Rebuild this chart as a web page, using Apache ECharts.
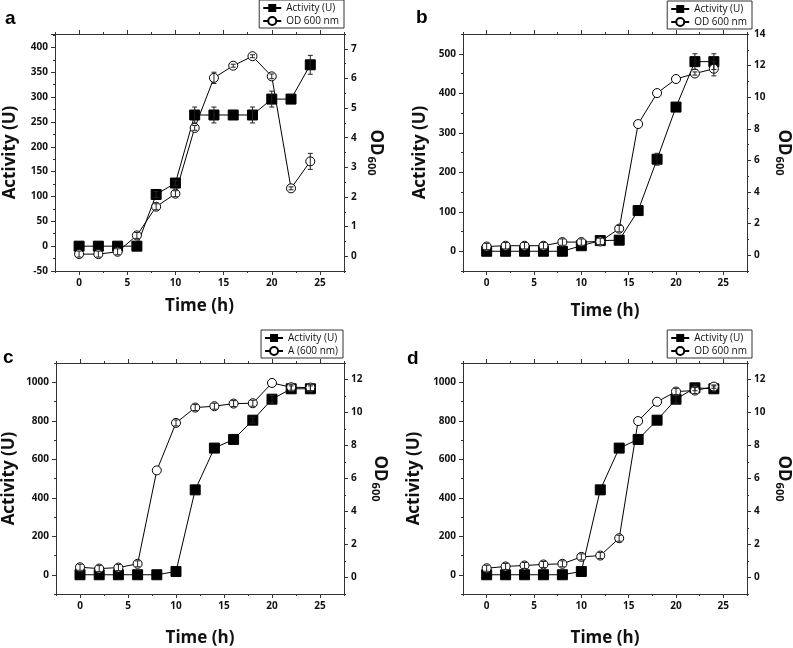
<!DOCTYPE html>
<html><head><meta charset="utf-8">
<script src="https://cdn.jsdelivr.net/npm/echarts@6/dist/echarts.min.js"></script>
<style>html,body{margin:0;padding:0;background:#fff}#c{width:793px;height:648px}</style>
</head><body><div id="c"></div>
<script>
// ---- data ----
const time = [0, 2, 4, 6, 8, 10, 12, 14, 16, 18, 20, 22, 24];

const activityA    = [0, 0, 0, 0, 104, 127, 264, 264, 264, 264, 296, 296, 365];
const activityErrA = [0, 0, 0, 0, 6, 5, 16, 16, 0, 16, 16, 0, 19];
const odA          = [0.07, 0.07, 0.15, 0.70, 1.67, 2.11, 4.33, 6.02, 6.43, 6.75, 6.07, 2.29, 3.20];
const odErrA       = [0.1, 0.1, 0.1, 0.1, 0.1, 0.1, 0.08, 0.19, 0.05, 0.05, 0.08, 0.05, 0.27];

const activityB    = [0, 0, 0, 0, 0, 14, 27, 28, 103, 233, 365, 480, 480];
const activityErrB = [0, 0, 0, 0, 0, 0, 0, 0, 0, 15, 0, 20, 20];
const odB          = [0.55, 0.60, 0.60, 0.60, 0.83, 0.83, 0.87, 1.68, 8.30, 10.26, 11.15, 11.50, 11.80];
const odErrB       = [0.2, 0.2, 0.2, 0.2, 0.2, 0.2, 0.2, 0.2, 0, 0, 0, 0.1, 0.45];

const activityC    = [0, 0, 0, 0, 0, 17, 441, 658, 703, 803, 912, 966, 966];
const activityErrC = [0, 0, 0, 0, 0, 0, 0, 0, 0, 15, 20, 15, 15];
const odC          = [0.62, 0.54, 0.60, 0.83, 6.49, 9.37, 10.30, 10.38, 10.54, 10.56, 11.79, 11.53, 11.51];
const odErrC       = [0.18, 0.18, 0.18, 0.18, 0, 0.18, 0.18, 0.18, 0.18, 0.18, 0, 0.18, 0.18];

const activityD    = [0, 0, 0, 0, 0, 17, 441, 658, 703, 803, 912, 971, 966];
const activityErrD = [0, 0, 0, 0, 0, 0, 0, 0, 0, 0, 20, 15, 15];
const odD          = [0.56, 0.67, 0.73, 0.79, 0.83, 1.25, 1.33, 2.38, 9.48, 10.65, 11.27, 11.33, 11.57];
const odErrD       = [0.18, 0.18, 0.18, 0.18, 0.18, 0.18, 0.18, 0.18, 0, 0, 0.18, 0.18, 0.1];

// axis ranges [min, max, major step]
const xRange   = [-2.5, 27.5, 5];
const yLeftA   = [-50, 427, 50];
const yRightA  = [-0.5, 7.5, 1];
const yLeftB   = [-50, 550, 100];
const yRightB  = [-1, 14, 2];
const yLeftCD  = [-100, 1100, 200];
const yRightCD = [-1, 13, 2];

const activityName = 'Activity (U)';
const odNames = ['OD 600 nm', 'OD 600 nm', 'A (600 nm)', 'OD 600 nm'];
const panelLetters = ['a', 'b', 'c', 'd'];
const xTitle = 'Time (h)';
const yLeftTitle = 'Activity (U)';

// ---- build ----
const FONT = '"Open Sans", "DejaVu Sans", sans-serif';
const LC = '#333';
const labelStyle = {fontFamily: FONT, fontWeight: 'bold', fontSize: 10, color: '#111'};
function isMult(v, s) { const r = v / s; return Math.abs(r - Math.round(r)) < 1e-6; }

const panels = [
  {act: activityA, actErr: activityErrA, od: odA, odErr: odErrA, yL: yLeftA, yR: yRightA,
   grid: {left: 55, top: 34, width: 289, height: 237}, xGap: 27, lGap: 36, rGap: 22, legend: {right: 449, top: 0}, letter: [5, 9]},
  {act: activityB, actErr: activityErrB, od: odB, odErr: odErrB, yL: yLeftB, yR: yRightB,
   grid: {left: 463, top: 34, width: 289, height: 237}, xGap: 32, lGap: 34, rGap: 27, legend: {right: 41, top: 1}, letter: [416, 8]},
  {act: activityC, actErr: activityErrC, od: odC, odErr: odErrC, yL: yLeftCD, yR: yRightCD,
   grid: {left: 55, top: 363, width: 289, height: 236}, xGap: 36, lGap: 38, rGap: 26, legend: {right: 450, top: 330}, letter: [3, 348]},
  {act: activityD, actErr: activityErrD, od: odD, odErr: odErrD, yL: yLeftCD, yR: yRightCD,
   grid: {left: 463, top: 363, width: 289, height: 236}, xGap: 36, lGap: 40, rGap: 27, legend: {right: 41, top: 330}, letter: [407, 349]}
];

const option = {animation: false, backgroundColor: '#fff', grid: [], xAxis: [], yAxis: [], series: [], legend: [], graphic: []};

function addAxes(list, g, pos, range, labels, nameCfg) {
  const [min, max, step] = range;
  const base = {type: 'value', gridIndex: g, position: pos, min: min, max: max, scale: false,
    splitLine: {show: false},
    axisLine: {show: true, onZero: false, lineStyle: {color: LC, width: 1}}};
  const fmt = v => isMult(v, step) ? String(v) : '';
  const idx = list.length;
  if (isMult(min, step)) {
    list.push(Object.assign({}, base, {interval: step,
      axisTick: {show: true, length: 4, lineStyle: {color: LC}},
      minorTick: {show: true, splitNumber: 2, length: 2, lineStyle: {color: LC}},
      axisLabel: labels ? Object.assign({}, labelStyle, {formatter: fmt, margin: 7}) : {show: false}}, nameCfg || {}));
  } else {
    list.push(Object.assign({}, base, {interval: step,
      axisTick: {show: true, length: 2, lineStyle: {color: LC}},
      minorTick: {show: true, splitNumber: 2, length: 4, lineStyle: {color: LC}},
      axisLabel: {show: false}}, nameCfg || {}));
    if (labels) {
      list.push({type: 'value', gridIndex: g, position: pos, min: min, max: max, interval: step / 2,
        splitLine: {show: false}, axisLine: {show: false, onZero: false}, axisTick: {show: false},
        axisLabel: Object.assign({}, labelStyle, {formatter: fmt, margin: 7})});
    }
  }
  return idx;
}

function errSeries(name, xi, yi, vals, errs) {
  const data = [];
  time.forEach((t, i) => { if (errs[i] > 0) data.push([t, vals[i], errs[i]]); });
  return {type: 'custom', name: name, xAxisIndex: xi, yAxisIndex: yi, z: 5, silent: true,
    data: data, encode: {x: 0, y: 1},
    renderItem: function (params, api) {
      const x = api.value(0), y = api.value(1), e = api.value(2);
      const top = api.coord([x, y + e]), bot = api.coord([x, y - e]);
      const cw = 2.5, st = {stroke: '#222', lineWidth: 1};
      return {type: 'group', children: [
        {type: 'line', shape: {x1: top[0], y1: top[1], x2: bot[0], y2: bot[1]}, style: st},
        {type: 'line', shape: {x1: top[0] - cw, y1: top[1], x2: top[0] + cw, y2: top[1]}, style: st},
        {type: 'line', shape: {x1: bot[0] - cw, y1: bot[1], x2: bot[0] + cw, y2: bot[1]}, style: st}
      ]};
    }};
}

const titleStyle = {fontFamily: FONT, fontWeight: 'bold', fontSize: 17, color: '#111'};

panels.forEach((p, g) => {
  option.grid.push(Object.assign({containLabel: false}, p.grid));
  const xi = addAxes(option.xAxis, g, 'bottom', xRange, true,
    {name: xTitle, nameLocation: 'middle', nameGap: p.xGap, nameTextStyle: titleStyle});
  addAxes(option.xAxis, g, 'top', xRange, false);
  const yl = addAxes(option.yAxis, g, 'left', p.yL, true,
    {name: yLeftTitle, nameLocation: 'middle', nameGap: p.lGap, nameTextStyle: titleStyle});
  const yr = addAxes(option.yAxis, g, 'right', p.yR, true,
    {name: '{a|OD}{b|600}', nameLocation: 'middle', nameGap: p.rGap, nameRotate: -90,
     nameTextStyle: {rich: {
       a: {fontFamily: FONT, fontWeight: 'bold', fontSize: 17, color: '#111'},
       b: {fontFamily: FONT, fontWeight: 'bold', fontSize: 11, color: '#111', verticalAlign: 'bottom', padding: [8, 0, 0, 1]}}}});

  option.series.push({type: 'line', name: activityName, xAxisIndex: xi, yAxisIndex: yl,
    data: time.map((t, i) => [t, p.act[i]]), symbol: 'rect', symbolSize: 10,
    itemStyle: {color: '#000', borderColor: '#000'}, lineStyle: {color: '#000', width: 1}, z: 2});
  option.series.push({type: 'line', name: odNames[g], xAxisIndex: xi, yAxisIndex: yr,
    data: time.map((t, i) => [t, p.od[i]]), symbol: 'circle', symbolSize: 9, showAllSymbol: true,
    itemStyle: {color: '#fff', borderColor: '#000', borderWidth: 1}, lineStyle: {color: '#000', width: 1}, z: 3});
  option.series.push(errSeries('errAct' + g, xi, yl, p.act, p.actErr));
  option.series.push(errSeries('errOD' + g, xi, yr, p.od, p.odErr));

  option.legend.push({right: p.legend.right, top: p.legend.top, orient: 'vertical',
    data: [activityName, odNames[g]], selectedMode: false,
    borderColor: '#333', borderWidth: 1, borderRadius: 0, backgroundColor: '#fff',
    padding: [3, 5, 2, 3], itemGap: 3, itemWidth: 18, itemHeight: 10,
    textStyle: {fontFamily: FONT, fontSize: 10, color: '#111'}});

  option.graphic.push({type: 'text', left: p.letter[0], top: p.letter[1],
    style: {text: panelLetters[g], font: 'bold 19px "Liberation Sans", Arial, sans-serif', fill: '#000'}});
});

const chart = echarts.init(document.getElementById('c'), null, {renderer: 'canvas'});
chart.setOption(option);
</script>
</body></html>
